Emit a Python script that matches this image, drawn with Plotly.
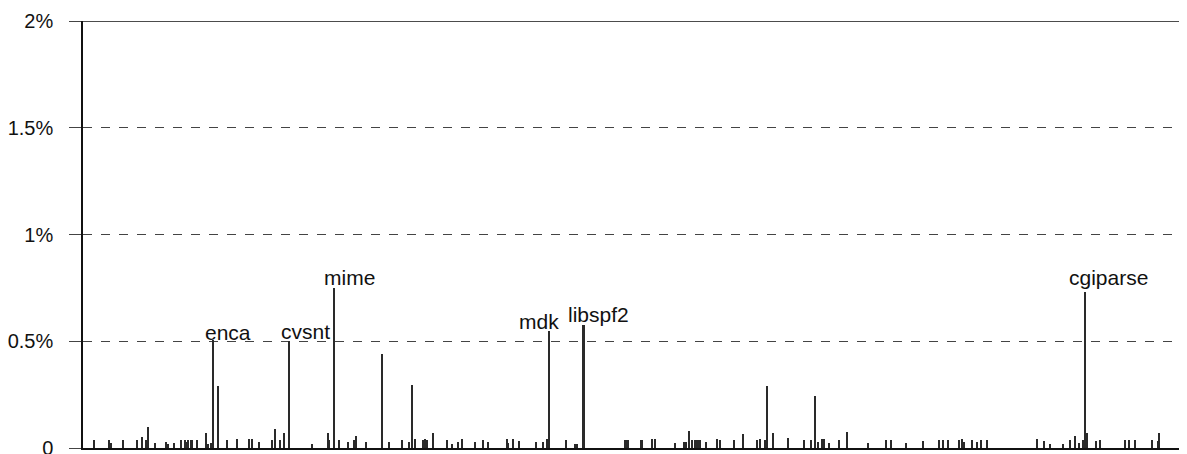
import plotly.graph_objects as go

# package position index along the x axis (one unit per package slot) and share in %
positions = [11, 25.7, 28.3, 39.7, 53.7, 59.3, 62.7, 65, 72, 83.3, 84.7, 91, 97.7, 101.7, 103, 105,
             108.3, 109.3, 113.7, 123, 125.3, 127.7, 130, 135, 143.7, 153.7, 165.7, 169.3, 176,
             189.3, 191.7, 197.3, 201.3, 206.3, 228.7, 245, 246, 251.3, 255.7, 264.7, 271.3, 272.7,
             282.7, 299, 305.7, 318.7, 326, 328.7, 332, 339.7, 342.3, 344.3, 349.7, 363.7, 368.7,
             374.7, 379, 391.7, 399.7, 405.3, 423.7, 425.3, 429.7, 436.3, 453, 460.3, 463.7, 466,
             483, 492.5, 493.7, 500.2, 501.3, 542, 543.5, 545, 558, 559.5, 568.7, 572, 592.3, 601,
             603, 605.7, 609.3, 612, 613.7, 616, 617.3, 623, 633.7, 637, 651, 659.7, 673.7, 677.3,
             682.3, 684.3, 689.7, 704.7, 720.7, 728, 732.3, 735.3, 738.7, 741, 746, 756, 764, 784.7,
             802.7, 807.7, 823, 840.5, 856.3, 860.2, 865.3, 876.3, 879.3, 881, 888.7, 894.3, 897.7,
             904.3, 953.7, 961, 967, 979.7, 987, 992, 995.7, 999.7, 1002.3, 1003.7, 1013, 1017,
             1042.3, 1045.7, 1052, 1068.7, 1074.7, 1076.3]
shares = [0.036, 0.036, 0.024, 0.036, 0.036, 0.05, 0.036, 0.098, 0.024, 0.03, 0.02, 0.024, 0.036,
          0.036, 0.03, 0.036, 0.036, 0.036, 0.036, 0.07, 0.02, 0.024, 0.508, 0.289, 0.036, 0.04,
          0.04, 0.04, 0.03, 0.036, 0.088, 0.036, 0.07, 0.5, 0.02, 0.07, 0.036, 0.751, 0.036, 0.028,
          0.036, 0.055, 0.03, 0.442, 0.03, 0.036, 0.03, 0.294, 0.04, 0.036, 0.04, 0.036, 0.07,
          0.036, 0.02, 0.03, 0.04, 0.03, 0.036, 0.03, 0.04, 0.024, 0.04, 0.033, 0.028, 0.03, 0.04,
          0.548, 0.036, 0.02, 0.02, 0.578, 0.578, 0.036, 0.036, 0.036, 0.036, 0.036, 0.04, 0.04,
          0.024, 0.028, 0.03, 0.08, 0.036, 0.036, 0.036, 0.036, 0.036, 0.028, 0.04, 0.036, 0.036,
          0.065, 0.036, 0.04, 0.036, 0.289, 0.07, 0.048, 0.036, 0.036, 0.242, 0.03, 0.04, 0.04,
          0.024, 0.036, 0.075, 0.024, 0.036, 0.036, 0.024, 0.033, 0.036, 0.036, 0.036, 0.036,
          0.044, 0.028, 0.036, 0.028, 0.036, 0.036, 0.044, 0.033, 0.02, 0.02, 0.036, 0.055, 0.024,
          0.036, 0.731, 0.07, 0.033, 0.036, 0.036, 0.036, 0.036, 0.036, 0.033, 0.07]

label_names = ["enca", "cvsnt", "mime", "mdk", "libspf2", "cgiparse"]
label_positions = [130, 206.3, 251.3, 466, 501.3, 1002.3]
label_shares = [0.508, 0.5, 0.751, 0.548, 0.578, 0.731]
label_xshift = [15, 16, 15, -10, 14, 23]
label_yshift = [-6, -4, -3, -4, -3, 1]

y_ticks = [0, 0.5, 1, 1.5, 2]
y_tick_labels = ["0", "0.5%", "1%", "1.5%", "2%"]

fig = go.Figure()
fig.add_trace(go.Bar(x=positions, y=shares, width=1.2,
                     marker=dict(color="#2a2a2a", line=dict(width=0))))

for name, px, sh, dx, dy in zip(label_names, label_positions, label_shares, label_xshift, label_yshift):
    fig.add_annotation(x=px, y=sh, text=name, showarrow=False, xanchor="center", yanchor="bottom",
                       xshift=dx, yshift=dy, font=dict(size=21, color="#111"))

fig.add_shape(type="line", xref="paper", yref="y", x0=0, x1=1, y0=2, y1=2,
              line=dict(color="#111", width=1.5))

# page body adds an 8px offset, so the figure is sized to the remaining window
fig.update_layout(
    width=1179, height=446,
    margin=dict(l=75, r=0, t=13, b=6, autoexpand=False),
    plot_bgcolor="white", paper_bgcolor="white",
    showlegend=False, bargap=0,
    font=dict(family="Liberation Sans, Arial, sans-serif", size=20, color="#111"),
    xaxis=dict(range=[0, 1104], showticklabels=False, showgrid=False, zeroline=False,
               showline=True, linecolor="#111", linewidth=2, ticks="", automargin=False),
    yaxis=dict(range=[0, 2], tickvals=y_ticks, ticktext=y_tick_labels, showgrid=True,
               gridcolor="#444", gridwidth=1, griddash="9px,9px", zeroline=False,
               showline=True, linecolor="#111", linewidth=1.5, ticks="outside",
               ticklen=12, tickcolor="#444", tickwidth=1, ticklabelstandoff=12,
               ticklabeloverflow="allow",
               tickfont=dict(size=20), automargin=False),
)

fig.write_html("out.html")
